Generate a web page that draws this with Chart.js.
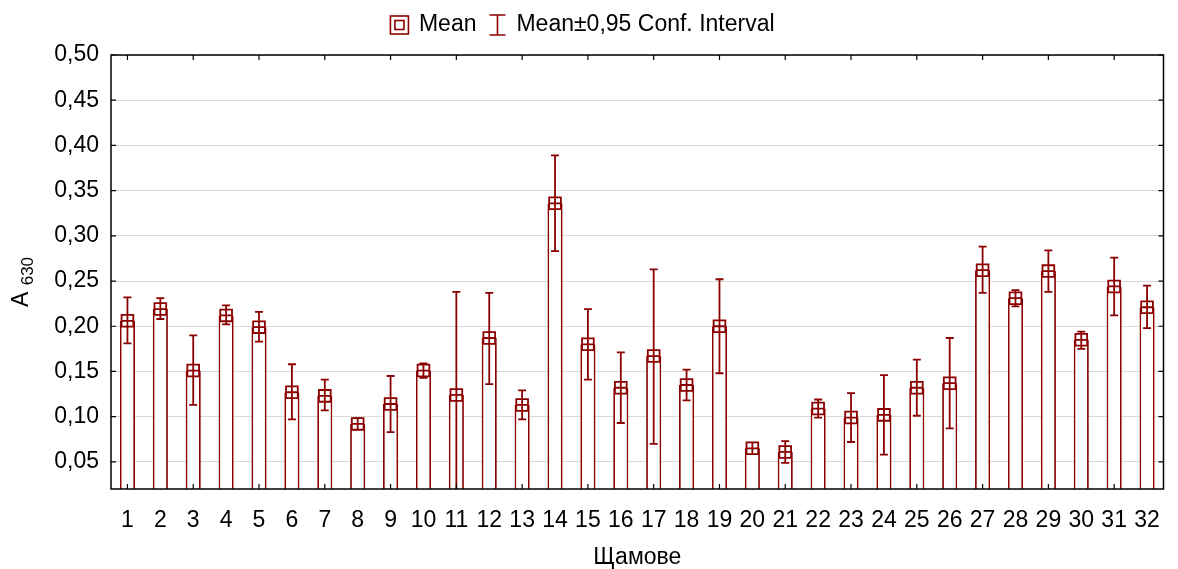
<!DOCTYPE html>
<html>
<head>
<meta charset="utf-8">
<script src="https://cdn.jsdelivr.net/npm/chart.js@4.4.0/dist/chart.umd.min.js"></script>
<style>
  html, body { margin: 0; padding: 0; background: #fff; }
  #wrap { width: 1178px; height: 569px; }
</style>
</head>
<body>
<div id="wrap"><canvas id="chart" width="1178" height="569"></canvas></div>
<script>
// ------------------------------------------------------------
// Data
// ------------------------------------------------------------

const strains = ["1", "2", "3", "4", "5", "6", "7", "8", "9", "10", "11", "12", "13", "14", "15", "16",
                 "17", "18", "19", "20", "21", "22", "23", "24", "25", "26", "27", "28", "29", "30", "31", "32"];

const meanA630 = [0.206, 0.219, 0.151, 0.212, 0.199, 0.127, 0.123, 0.092, 0.114, 0.151, 0.124, 0.187, 0.113, 0.336, 0.180, 0.132,
                  0.167, 0.135, 0.200, 0.065, 0.061, 0.109, 0.099, 0.102, 0.132, 0.137, 0.262, 0.231, 0.261, 0.185, 0.244, 0.221];

const ciLow  = [0.181, 0.208, 0.113, 0.202, 0.183, 0.097, 0.107, 0.086, 0.083, 0.143, 0.010, 0.136, 0.097, 0.283, 0.141, 0.093,
                0.070, 0.118, 0.148, 0.059, 0.049, 0.099, 0.072, 0.058, 0.101, 0.087, 0.237, 0.222, 0.238, 0.175, 0.212, 0.198];

const ciHigh = [0.232, 0.231, 0.190, 0.223, 0.216, 0.158, 0.141, 0.098, 0.145, 0.159, 0.238, 0.237, 0.129, 0.389, 0.219, 0.171,
                0.263, 0.152, 0.252, 0.071, 0.073, 0.119, 0.126, 0.146, 0.163, 0.187, 0.288, 0.240, 0.284, 0.194, 0.276, 0.245];

const yTickValues = [0.05, 0.10, 0.15, 0.20, 0.25, 0.30, 0.35, 0.40, 0.45, 0.50];

const legendTexts = ["Mean", "Mean\u00b10,95 Conf. Interval"];

// ------------------------------------------------------------
// Styles
// ------------------------------------------------------------

const darkRed = "#8b0000";
const FONT = '"Liberation Sans", Arial, sans-serif';
Chart.defaults.font.family = FONT;
Chart.defaults.color = "#000";

// ------------------------------------------------------------
// Plugin : error bars, frame with inside ticks, legend, Y title
// ------------------------------------------------------------

function drawLegend(ctx, cx, cy) {
    ctx.font = "23px " + FONT;
    const w0 = ctx.measureText(legendTexts[0]).width;
    const w1 = ctx.measureText(legendTexts[1]).width;
    const total = 19 + 10 + w0 + 12 + 18 + 10 + w1;
    let x = cx - total / 2;

    ctx.strokeStyle = darkRed;
    ctx.lineWidth = 1.6;
    // square-in-square icon
    ctx.strokeRect(x + 0.5, cy - 9, 18, 18);
    ctx.strokeRect(x + 5, cy - 4.5, 9, 9);
    x += 19 + 10;
    ctx.fillStyle = "#000";
    ctx.textBaseline = "middle";
    ctx.fillText(legendTexts[0], x, cy);
    x += w0 + 12;
    // I-beam icon
    ctx.beginPath();
    ctx.moveTo(x + 1, cy - 10); ctx.lineTo(x + 17, cy - 10);
    ctx.moveTo(x + 9, cy - 10); ctx.lineTo(x + 9, cy + 10);
    ctx.moveTo(x + 1, cy + 10); ctx.lineTo(x + 17, cy + 10);
    ctx.stroke();
    x += 18 + 10;
    ctx.fillText(legendTexts[1], x, cy);
}

const framePlugin = {
    id: "frame",
    afterDatasetDraw(chart, args) {
        if (args.index !== 0) return;
        const { ctx, chartArea: a, scales: { x, y } } = chart;
        ctx.save();
        ctx.beginPath();
        ctx.rect(a.left, a.top, a.right - a.left, a.bottom - a.top);
        ctx.clip();
        ctx.strokeStyle = darkRed;
        ctx.lineWidth = 1.8;
        strains.forEach((s, i) => {
            const px = x.getPixelForValue(i);
            const yl = y.getPixelForValue(ciLow[i]);
            const yh = y.getPixelForValue(ciHigh[i]);
            ctx.beginPath();
            ctx.moveTo(px, yl); ctx.lineTo(px, yh);
            ctx.moveTo(px - 4, yl); ctx.lineTo(px + 4, yl);
            ctx.moveTo(px - 4, yh); ctx.lineTo(px + 4, yh);
            ctx.stroke();
        });
        ctx.restore();
    },
    afterDraw(chart) {
        const { ctx, chartArea: a, scales: { x, y } } = chart;
        ctx.save();
        ctx.strokeStyle = "#000";
        ctx.lineWidth = 1.2;
        ctx.beginPath();
        yTickValues.forEach(v => {
            const py = y.getPixelForValue(v);
            ctx.moveTo(a.left, py); ctx.lineTo(a.left + 5, py);
            ctx.moveTo(a.right, py); ctx.lineTo(a.right - 5, py);
        });
        strains.forEach((s, i) => {
            if (i % 2) return;
            const px = x.getPixelForValue(i);
            ctx.moveTo(px, a.top); ctx.lineTo(px, a.top + 5);
            ctx.moveTo(px, a.bottom); ctx.lineTo(px, a.bottom - 5);
        });
        ctx.stroke();
        ctx.lineWidth = 1.5;
        ctx.strokeRect(a.left, a.top, a.right - a.left, a.bottom - a.top);

        drawLegend(ctx, (a.left + a.right) / 2 - 55, 25);

        // Y title "A" with subscript "630"
        ctx.fillStyle = "#000";
        ctx.translate(28, (a.top + a.bottom) / 2 + 10);
        ctx.rotate(-Math.PI / 2);
        ctx.textBaseline = "alphabetic";
        ctx.font = "23px " + FONT;
        const wA = ctx.measureText("A ").width;
        ctx.font = "17px " + FONT;
        const wS = ctx.measureText("630").width;
        const x0 = -(wA + wS) / 2;
        ctx.font = "23px " + FONT;
        ctx.fillText("A ", x0, 0);
        ctx.font = "17px " + FONT;
        ctx.fillText("630", x0 + wA, 5);
        ctx.restore();
    }
};

// ------------------------------------------------------------
// Chart
// ------------------------------------------------------------

const ctx = document.getElementById("chart").getContext("2d");

new Chart(ctx, {
    type: "bar",
    data: {
        labels: strains,
        datasets: [
            {
                label: "bars",
                data: meanA630,
                backgroundColor: "#fff",
                borderColor: darkRed,
                borderWidth: 1.8,
                barPercentage: 0.46,
                categoryPercentage: 1,
                order: 3
            },
            {
                type: "line",
                label: "mean box",
                data: meanA630,
                showLine: false,
                pointStyle: "rect",
                pointRadius: 8.3,
                pointBackgroundColor: "#fff",
                pointBorderColor: darkRed,
                pointBorderWidth: 1.8,
                order: 2
            },
            {
                type: "line",
                label: "mean cross",
                data: meanA630,
                showLine: false,
                pointStyle: "cross",
                pointRadius: 5.9,
                pointBorderColor: darkRed,
                pointBorderWidth: 1.8,
                order: 1
            }
        ]
    },
    options: {
        responsive: false,
        animation: false,
        layout: { padding: { left: 0, right: 1, top: 55, bottom: 0 } },
        plugins: {
            tooltip: { enabled: false },
            legend: { display: false }
        },
        scales: {
            x: {
                grid: { display: false, drawTicks: false },
                border: { display: false },
                ticks: {
                    autoSkip: false,
                    maxRotation: 0,
                    minRotation: 0,
                    padding: 18,
                    font: { size: 23 },
                    color: "#000"
                },
                title: {
                    display: true,
                    text: "\u0429\u0430\u043c\u043e\u0432\u0435",
                    font: { size: 23 },
                    color: "#000",
                    padding: { top: 0, bottom: -2 }
                },
                afterFit: s => { s.height = 80; }
            },
            y: {
                min: 0.02,
                max: 0.5,
                afterBuildTicks: s => { s.ticks = yTickValues.map(v => ({ value: v })); },
                grid: { color: "#d9d9d9", lineWidth: 1, drawTicks: false },
                border: { display: false },
                ticks: {
                    padding: 12,
                    font: { size: 23 },
                    color: "#000",
                    callback: v => v.toFixed(2).replace(".", ",")
                },
                afterFit: s => { s.width = 111; }
            }
        }
    },
    plugins: [framePlugin]
});
</script>
</body>
</html>
